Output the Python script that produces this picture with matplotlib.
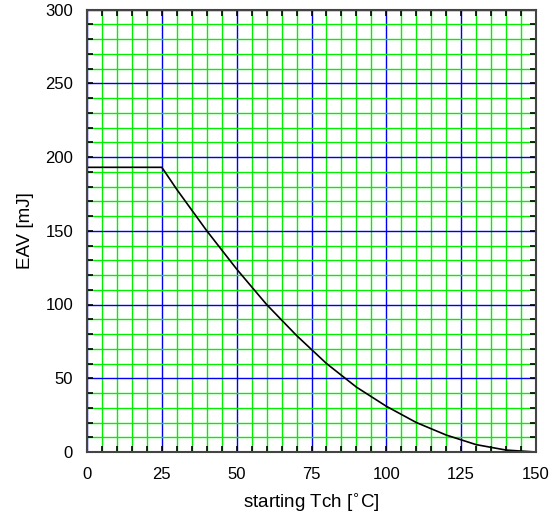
import matplotlib
matplotlib.use("Agg")
import matplotlib.pyplot as plt
from matplotlib.ticker import MultipleLocator

plt.rcParams['font.family'] = ['Liberation Sans', 'DejaVu Sans']

# data
tch = [0, 25, 30, 40, 50, 60, 70, 80, 90, 100, 110, 120, 130, 140, 150]
eav = [193, 193, 178, 150, 124, 100, 79, 60, 44, 31, 20, 11.5, 5, 1.3, 0]

x_ticks = [0, 25, 50, 75, 100, 125, 150]
y_ticks = [0, 50, 100, 150, 200, 250, 300]

W, H = 549, 518
fig = plt.figure(figsize=(W/100, H/100), dpi=100)
ax = fig.add_axes([87/W, 1-452/H, (536-87)/W, (452-9.5)/H])

ax.set_xlim(0, 150)
ax.set_ylim(0, 300)
ax.set_xticks(x_ticks)
ax.set_yticks(y_ticks)
ax.xaxis.set_minor_locator(MultipleLocator(5))
ax.yaxis.set_minor_locator(MultipleLocator(10))

ax.grid(which='minor', color='#00f000', linewidth=1.0)
ax.grid(which='major', color='#0000f0', linewidth=1.0)
ax.set_axisbelow(True)

ax.plot(tch, eav, color='black', linewidth=1.2, zorder=3)

for s in ax.spines.values():
    s.set_color('#444444')
    s.set_linewidth(1.5)
    s.set_zorder(4)

ax.tick_params(which='both', direction='in', color='black', top=True, right=True)
ax.tick_params(which='major', length=4, width=1.2, labelsize=12)
ax.tick_params(which='minor', length=4, width=1.2)
ax.tick_params(axis='x', which='major', pad=11)
ax.tick_params(axis='y', which='major', pad=10)

ax.set_xlabel('starting Tch [$^{\\circ}$C]', fontsize=13.5, labelpad=6)
ax.set_ylabel('EAV [mJ]', fontsize=13.5, labelpad=8)

fig.text(0.5, 1.009, 'Avalanche (single pulse) energy vs. starting Tch (typ.)',
         ha='center', va='baseline', fontsize=13)

fig.savefig('out.png', dpi=100)
